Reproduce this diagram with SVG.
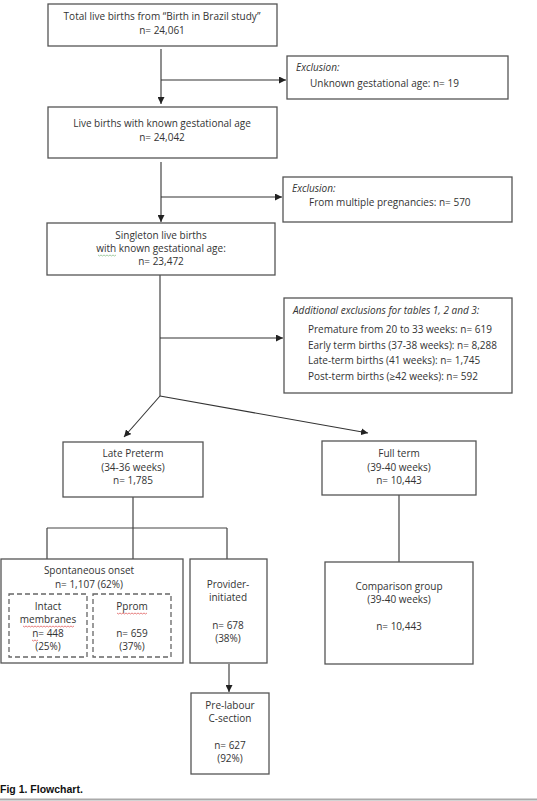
<svg xmlns="http://www.w3.org/2000/svg" width="537" height="801" viewBox="0 0 537 801">
<defs>
<marker id="ah" viewBox="0 0 10 10" refX="10" refY="5" markerWidth="7" markerHeight="7" markerUnits="userSpaceOnUse" orient="auto">
<path d="M0,0 L10,5 L0,10 z" fill="#222"/>
</marker>
</defs>
<style>
.box{fill:#fff;stroke:#555;stroke-width:1.3}
.dash{fill:none;stroke:#666;stroke-width:1.3;stroke-dasharray:5,3}
.ln{fill:none;stroke:#444;stroke-width:1.2}
.ar{fill:none;stroke:#333;stroke-width:1.1;marker-end:url(#ah)}
text{font-family:"Open Sans","Liberation Sans",sans-serif;font-size:10px;fill:#333}
.c{text-anchor:middle}
.i{font-style:italic}
.cap{font-family:"Liberation Sans",Arial,sans-serif;font-weight:bold;font-size:10.5px;fill:#111}
.sq{fill:none;stroke:#e06060;stroke-width:0.8}
.sqg{fill:none;stroke:#8fc08f;stroke-width:0.8}
</style>
<rect width="537" height="801" fill="#fff"/>
<g id="connectors">
<path class="ar" d="M161,49 V104"/>
<path class="ar" d="M161,80 H286"/>
<path class="ar" d="M161,162 V222"/>
<path class="ar" d="M161,197 H282"/>
<path class="ln" d="M160,275 V396"/>
<path class="ar" d="M160,338 H283"/>
<path class="ar" d="M160,396 L124,437"/>
<path class="ar" d="M160,396 L368,433"/>
<path class="ln" d="M133,497 V559 M47,528 H227 M47,528 V559 M227,528 V559"/>
<path class="ln" d="M399,495 V562"/>
<path class="ar" d="M229,664 V692"/>
</g>
<g id="n1"><rect class="box" x="48" y="4" width="229" height="42"/>
<text class="c" x="162" y="20">Total live births from “Birth in Brazil study”</text>
<text class="c" x="162" y="34">n= 24,061</text></g>
<g id="ex1"><rect class="box" x="287" y="56" width="221" height="43"/>
<text class="i" x="296" y="71">Exclusion:</text>
<text x="310" y="87">Unknown gestational age: n= 19</text></g>
<g id="n2"><rect class="box" x="48" y="107" width="229" height="51"/>
<text class="c" x="162" y="127">Live births with known gestational age</text>
<text class="c" x="162" y="141">n= 24,042</text></g>
<g id="ex2"><rect class="box" x="283" y="177" width="229" height="45"/>
<text class="i" x="292" y="192">Exclusion:</text>
<text x="309" y="206">From multiple pregnancies:  n= 570</text></g>
<g id="n3"><rect class="box" x="47" y="223" width="228" height="52"/>
<text class="c" x="161" y="239">Singleton live births</text>
<text class="c" x="161" y="252">with known gestational age:</text>
<path class="sqg" d="M98,255 l1.5,1 l1.5,-1 l1.5,1 l1.5,-1 l1.5,1 l1.5,-1 l1.5,1 l1.5,-1 l1.5,1 l1.5,-1 l1.5,1 l1.5,-1"/>
<text class="c" x="161" y="265">n= 23,472</text></g>
<g id="ex3"><rect class="box" x="284" y="298" width="228" height="95"/>
<text class="i" x="293" y="314">Additional exclusions for tables 1, 2 and 3:</text>
<text x="308" y="333">Premature from 20 to 33 weeks: n= 619</text>
<text x="308" y="349">Early term births (37-38 weeks): n= 8,288</text>
<text x="308" y="364">Late-term births (41 weeks): n= 1,745</text>
<text x="308" y="380">Post-term births (≥42 weeks): n= 592</text></g>
<g id="n4"><rect class="box" x="63" y="442" width="140" height="55"/>
<text class="c" x="133" y="457">Late Preterm</text>
<text class="c" x="133" y="471">(34-36 weeks)</text>
<text class="c" x="133" y="484">n= 1,785</text></g>
<g id="n5"><rect class="box" x="322" y="441" width="154" height="54"/>
<text class="c" x="399" y="457">Full term</text>
<text class="c" x="399" y="471">(39-40 weeks)</text>
<text class="c" x="399" y="484">n= 10,443</text></g>
<g id="n6"><rect class="box" x="1" y="559" width="182" height="104"/>
<text class="c" x="89" y="574">Spontaneous onset</text>
<text class="c" x="89" y="588">n= 1,107 (62%)</text></g>
<g id="n6a"><rect class="dash" x="9" y="594" width="78" height="63"/>
<text class="c" x="48" y="610">Intact</text>
<text class="c" x="48" y="623">membranes</text>
<path class="sq" d="M23,626 l1.5,1 l1.5,-1 l1.5,1 l1.5,-1 l1.5,1 l1.5,-1 l1.5,1 l1.5,-1 l1.5,1 l1.5,-1 l1.5,1 l1.5,-1 l1.5,1 l1.5,-1 l1.5,1 l1.5,-1 l1.5,1 l1.5,-1 l1.5,1 l1.5,-1 l1.5,1 l1.5,-1 l1.5,1 l1.5,-1 l1.5,1 l1.5,-1 l1.5,1 l1.5,-1 l1.5,1 l1.5,-1 l1.5,1 l1.5,-1 l1.5,1 l1.5,-1"/>
<text class="c" x="48" y="637">n= 448</text>
<path class="sq" d="M32,640 l1.5,1 l1.5,-1 l1.5,1 l1.5,-1"/>
<text class="c" x="48" y="650">(25%)</text></g>
<g id="n6b"><rect class="dash" x="93" y="594" width="78" height="63"/>
<text class="c" x="132" y="610">Pprom</text>
<path class="sq" d="M117,613 l1.5,1 l1.5,-1 l1.5,1 l1.5,-1 l1.5,1 l1.5,-1 l1.5,1 l1.5,-1 l1.5,1 l1.5,-1 l1.5,1 l1.5,-1 l1.5,1 l1.5,-1 l1.5,1 l1.5,-1 l1.5,1 l1.5,-1 l1.5,1 l1.5,-1"/>
<text class="c" x="132" y="637">n= 659</text>
<text class="c" x="132" y="650">(37%)</text></g>
<g id="n7"><rect class="box" x="190" y="559" width="77" height="104"/>
<text class="c" x="228" y="588">Provider-</text>
<text class="c" x="228" y="601">initiated</text>
<text class="c" x="228" y="629">n= 678</text>
<text class="c" x="228" y="642">(38%)</text></g>
<g id="n8"><rect class="box" x="325" y="562" width="148" height="102"/>
<text class="c" x="399" y="590">Comparison group</text>
<text class="c" x="399" y="603">(39-40 weeks)</text>
<text class="c" x="399" y="630">n= 10,443</text></g>
<g id="n9"><rect class="box" x="191" y="693" width="78" height="81"/>
<text class="c" x="230" y="709">Pre-labour</text>
<text class="c" x="230" y="722">C-section</text>
<text class="c" x="230" y="749">n= 627</text>
<text class="c" x="230" y="762">(92%)</text></g>
<text class="cap" x="0" y="793">Fig 1. Flowchart.</text>
<line x1="0" y1="799.5" x2="537" y2="799.5" stroke="#aaa" stroke-width="2"/>
</svg>
